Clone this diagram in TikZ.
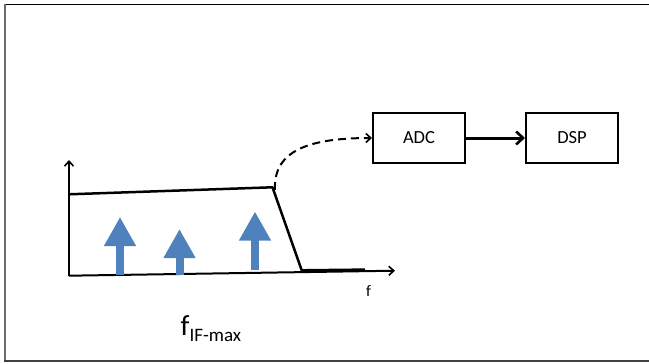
\documentclass[tikz,border=0pt]{standalone}
\usepackage{fontspec}
\setmainfont{Carlito}
\usetikzlibrary{arrows.meta}
\definecolor{spikeblue}{HTML}{4F81BD}
\tikzset{
  blockbox/.style={draw=black, line width=2pt, minimum width=92pt, minimum height=50pt, inner sep=0pt, font=\fontsize{18.5}{20}\selectfont},
  axisline/.style={line width=2pt, -{Straight Barb[length=5pt,width=9pt,line width=1.6pt]}},
  filterline/.style={line width=2.5pt, line join=round},
  spike/.style={spikeblue, line width=8pt, -{Triangle[width=30pt,length=29pt]}},
  flowarrow/.style={line width=3pt, -{Straight Barb[length=7pt,width=13pt,line width=2.6pt]}},
  linkdash/.style={line width=2pt, dash pattern=on 8pt off 5pt, -{Straight Barb[length=5pt,width=9pt,line width=1.6pt]}}
}
\begin{document}
\begin{tikzpicture}[x=1pt,y=-1pt]
\useasboundingbox (0,0) rectangle (649,364);
% frame
\draw[black, line width=1.3pt] (4,4.5) -- (649,4.5);
\draw[gray!85!black, line width=2pt] (5,4) -- (5,361);
\draw[black!75, line width=2pt] (4,361) -- (649,361);
% blocks
\node[blockbox] (adc) at (419,138) {ADC};
\node[blockbox] (dsp) at (572,138) {DSP};
\draw[flowarrow] (adc.east) -- (dsp.west);
% axes
\coordinate (o) at (69,275.7);
\coordinate (ytip) at (69,160);
\coordinate (xtip) at (395,270.7);
\draw[axisline] (o) -- (ytip);
\draw[axisline] (o) -- (xtip);
% spikes
\coordinate (s1) at (120,275);
\coordinate (t1) at (120,217);
\coordinate (s2) at (179.5,275);
\coordinate (t2) at (179.5,229);
\coordinate (s3) at (255,270);
\coordinate (t3) at (255,211.5);
\draw[spike] (s1) -- (t1);
\draw[spike] (s2) -- (t2);
\draw[spike] (s3) -- (t3);
% filter shape
\coordinate (ftl) at (69,194.3);
\coordinate (ftr) at (272.5,187.3);
\coordinate (fbr) at (301.7,270.3);
\coordinate (fend) at (365,269.6);
\draw[filterline] (ftl) -- (ftr) -- (fbr) -- (fend);
% dashed link
\coordinate (dstart) at (275,190);
\draw[linkdash] (dstart) .. controls (273,150) and (310,138) .. (adc.west);
% labels
\node[anchor=base west, inner sep=0pt, font=\fontsize{16}{18}\selectfont] (flab) at (366,296) {f};
\node[anchor=base west, inner sep=0pt] (fif) at (180.5,335) {\fontsize{29}{30}\selectfont f\raisebox{-6.7pt}{\fontsize{19}{20}\selectfont IF-max}};
\end{tikzpicture}
\end{document}
